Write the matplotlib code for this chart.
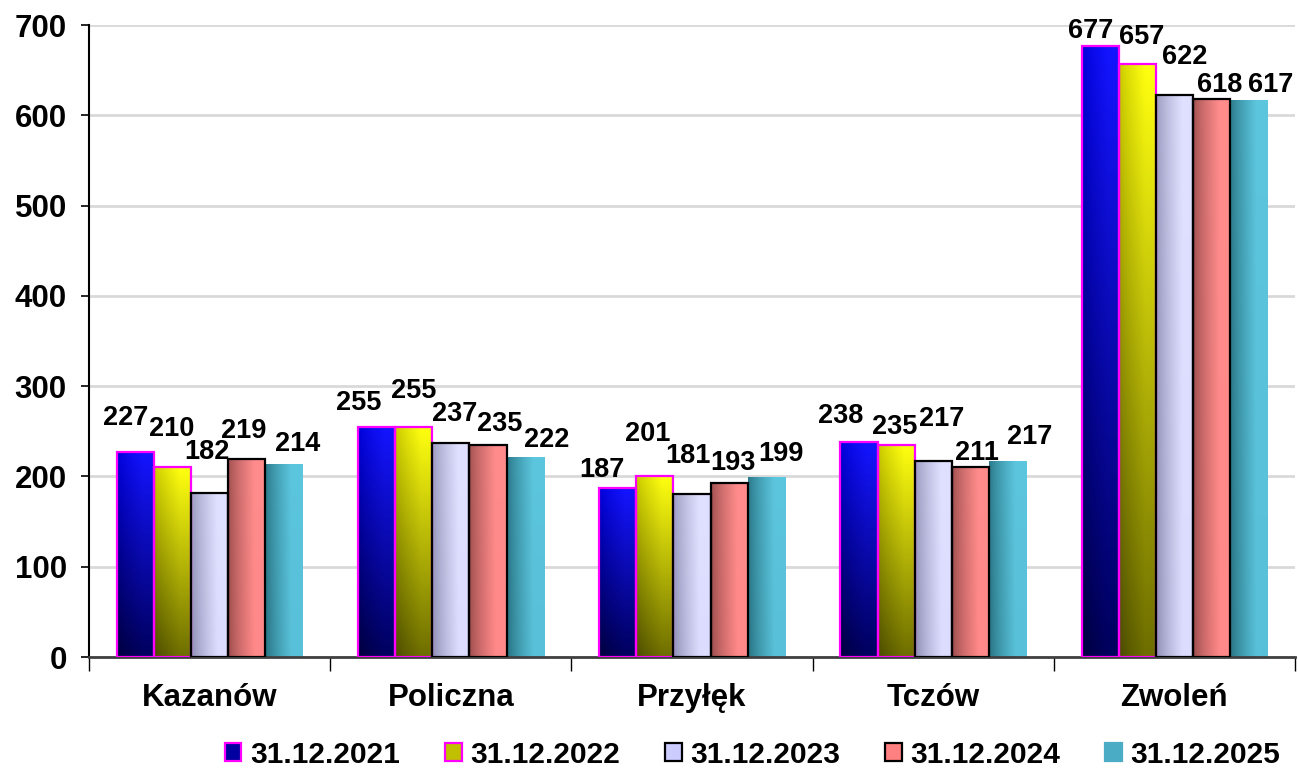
import numpy as np
import matplotlib
matplotlib.use("Agg")
import matplotlib.pyplot as plt
from matplotlib.colors import to_rgb
from matplotlib.patches import Patch

plt.rcParams.update({"font.family": ["Liberation Sans", "DejaVu Sans"],
                     "font.weight": "bold"})

categories = ["Kazanów", "Policzna", "Przyłęk", "Tczów", "Zwoleń"]
series = ["31.12.2021", "31.12.2022", "31.12.2023", "31.12.2024", "31.12.2025"]
v2021 = [227, 255, 187, 238, 677]
v2022 = [210, 255, 201, 235, 657]
v2023 = [182, 237, 181, 217, 622]
v2024 = [219, 235, 193, 211, 618]
v2025 = [214, 222, 199, 217, 617]
values = [v2021, v2022, v2023, v2024, v2025]

# label offsets (pixels) from the bar top centre, hand-placed like the original
label_dx = [[-10, -18, -16, -18, -9],
            [-1, 0, -7, -1, 4],
            [-3, 4, -4, 8, 10],
            [-3, 12, 4, 7, 8],
            [14, 22, 15, 22, 22]]
label_dy = [[34, 24, 18, 26, 15],
            [38, 36, 42, 18, 27],
            [41, 29, 38, 42, 38],
            [28, 21, 20, 14, 14],
            [20, 17, 23, 24, 15]]

# gradient corners: bottom-left, bottom-right, top-left, top-right
GRAD = [("#00003c", "#00005e", "#0000d8", "#1414ff"),
        ("#4a4a00", "#6e6e00", "#c8c800", "#ffff10"),
        ("#8c8cb2", "#dcdcff", "#9a9ac0", "#e0e0ff"),
        ("#9a4c4c", "#ff8888", "#a05050", "#ff8c8c"),
        ("#26707f", "#58c0d8", "#2a7888", "#5cc6de")]
EDGE = ["#ff00ff", "#ff00ff", "black", "black", "none"]
LEG = ["#0000a0", "#c0c000", "#ccccff", "#ff8080", "#4bacc6"]


def shade(ax, bar, corners, zorder):
    x0, y0 = bar.get_xy()
    w, h = bar.get_width(), bar.get_height()
    n = 64
    u = np.linspace(0, 1, n)
    hx = np.clip(u / 0.7, 0, 1) ** 0.8
    bl, br, tl, tr = [np.array(to_rgb(c)) for c in corners]
    bottom = bl[None, :] * (1 - hx[:, None]) + br[None, :] * hx[:, None]
    top = tl[None, :] * (1 - hx[:, None]) + tr[None, :] * hx[:, None]
    v = np.linspace(0, 1, n)[:, None, None]
    img = bottom[None] * (1 - v) + top[None] * v
    im = ax.imshow(img, extent=(x0, x0 + w, y0, y0 + h), origin="lower",
                   aspect="auto", interpolation="bilinear", zorder=zorder)
    im.set_clip_path(bar)


fig = plt.figure(figsize=(12.98, 7.69), dpi=100)
ax = fig.add_axes([0.0686, 0.1456, 0.9291, 0.8218])

x = np.arange(len(categories))
bw = 0.154
for i, vals in enumerate(values):
    pos = x + (i - 2) * bw
    bars = ax.bar(pos, vals, bw, facecolor="none", edgecolor=EDGE[i],
                  linewidth=1.6, zorder=3)
    for j, b in enumerate(bars):
        shade(ax, b, GRAD[i], 2)
        ax.annotate(str(vals[j]), (pos[j], vals[j]), xytext=(label_dx[i][j], label_dy[i][j]),
                    textcoords="offset pixels", ha="center", va="center",
                    fontsize=19.5, fontweight="bold", zorder=5)

ax.set_xlim(-0.5, len(categories) - 0.5)
ax.set_ylim(0, 700)
ax.set_yticks(range(0, 701, 100))
ax.yaxis.grid(True, color="#d9d9d9", linewidth=2)
ax.set_axisbelow(True)
ax.set_xticks(x)
ax.set_xticklabels(categories)
ax.set_xticks(np.arange(-0.5, len(categories)), minor=True)
ax.tick_params(axis="x", which="major", length=0, pad=19, labelsize=22.5)
ax.tick_params(axis="x", which="minor", length=10, width=1, direction="out")
ax.tick_params(axis="y", length=6, width=1.2, pad=10, labelsize=22.5)
for s in ("top", "right"):
    ax.spines[s].set_visible(False)
ax.spines["left"].set_linewidth(1.5)
ax.spines["bottom"].set_linewidth(2)
ax.spines["bottom"].set_color("#404040")

handles = [Patch(facecolor=LEG[i], edgecolor=EDGE[i] if EDGE[i] != "none" else LEG[i],
                 linewidth=1.6) for i in range(len(series))]
fig.legend(handles, series, loc="lower center", ncol=5, frameon=False,
           bbox_to_anchor=(0.58, -0.035), fontsize=21.5, handlelength=0.55,
           handleheight=0.55, handletextpad=0.3, columnspacing=1.5)

fig.savefig("out.png", dpi=100)
